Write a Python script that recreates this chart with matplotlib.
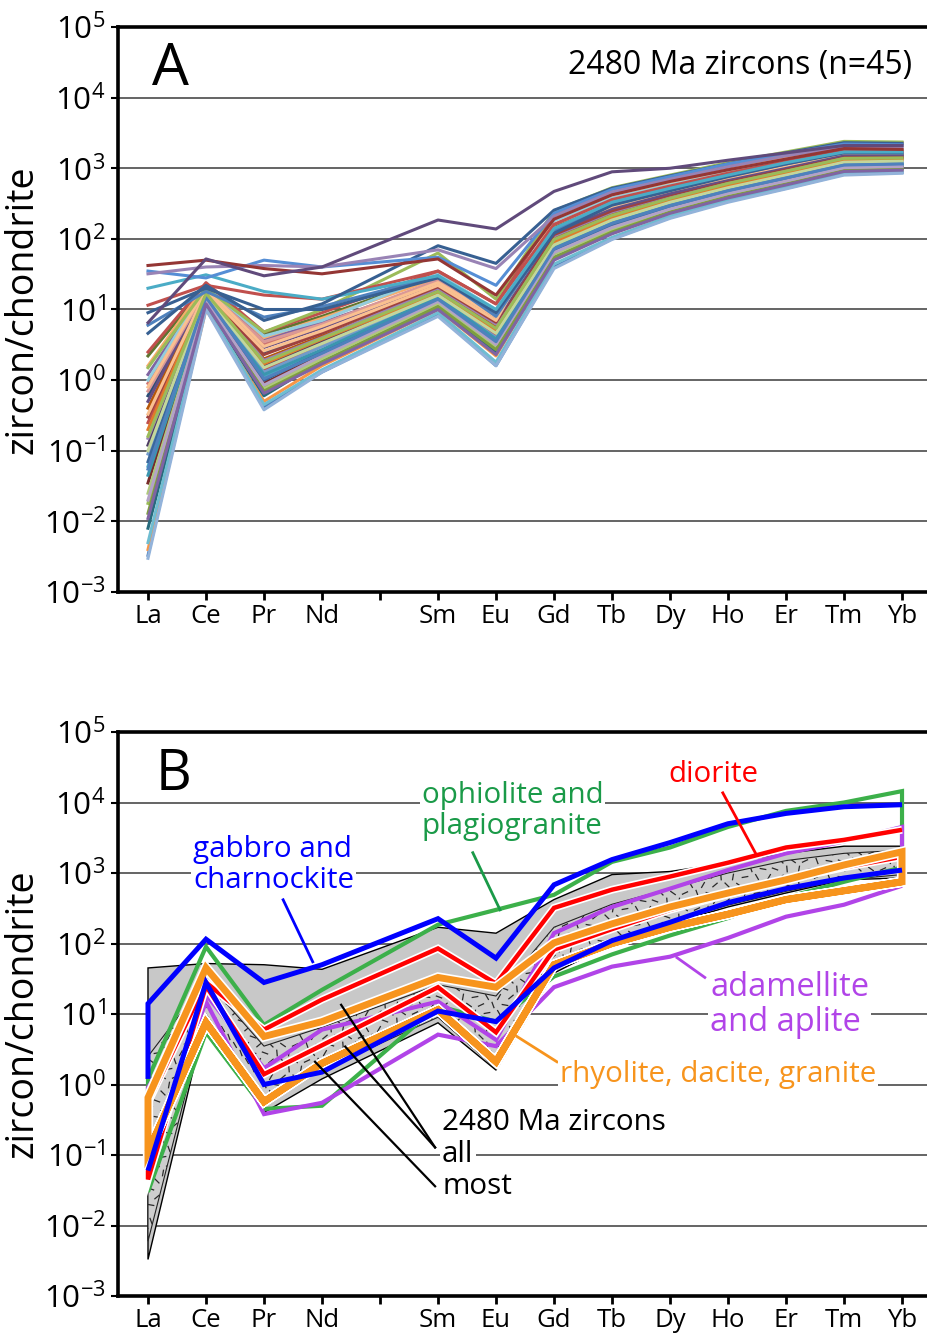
import numpy as np
import matplotlib
matplotlib.use('Agg')
import matplotlib.pyplot as plt
import matplotlib.patheffects as pe
from matplotlib.collections import LineCollection

plt.rcParams['font.family'] = ['Open Sans', 'DejaVu Sans']
plt.rcParams['mathtext.fontset'] = 'custom'
plt.rcParams['mathtext.rm'] = 'Open Sans'

# axe x : terres rares, Pm sans valeur (graduation sans etiquette)
elements = ['La', 'Ce', 'Pr', 'Nd', 'Pm', 'Sm', 'Eu', 'Gd', 'Tb', 'Dy', 'Ho', 'Er', 'Tm', 'Yb']
ree = ['La', 'Ce', 'Pr', 'Nd', 'Sm', 'Eu', 'Gd', 'Tb', 'Dy', 'Ho', 'Er', 'Tm', 'Yb']
decades = [1e-3, 1e-2, 1e-1, 1e0, 1e1, 1e2, 1e3, 1e4, 1e5]
decade_labels = ['-3', '-2', '-1', '0', '1', '2', '3', '4', '5']

# zircons 2480 Ma, normalises chondrite (La ... Yb)
zircons_2480 = [
    [0.0033, 11, 0.42, 1.3, 8.5, 1.6, 40, 100, 200, 340, 520, 820, 870],
    [0.25, 16, 1.4, 3.2, 16, 4.2, 85, 190, 330, 540, 820, 1250, 1300],
    [0.018, 13, 0.8, 2.1, 12, 3.1, 62, 140, 260, 430, 650, 1000, 1050],
    [1.2, 20, 3.8, 6.5, 24, 7.5, 120, 260, 430, 680, 1000, 1500, 1500],
    [0.06, 15, 1.1, 2.6, 14, 3.6, 70, 160, 290, 470, 720, 1100, 1150],
    [0.004, 10, 0.5, 1.6, 10, 2.2, 52, 120, 230, 380, 580, 900, 950],
    [0.6, 18, 2.5, 4.8, 20, 6.0, 105, 230, 400, 640, 950, 1450, 1450],
    [0.035, 14, 0.9, 2.3, 13, 2.6, 58, 130, 250, 410, 630, 980, 1020],
    [2.2, 22, 4.5, 8, 30, 9, 150, 320, 520, 800, 1200, 1800, 1800],
    [0.12, 17, 1.6, 3.5, 18, 5.2, 95, 210, 370, 600, 900, 1350, 1400],
    [0.008, 12, 0.6, 1.9, 11, 2.5, 56, 128, 245, 400, 610, 950, 990],
    [0.4, 19, 2.0, 4.2, 19, 5.8, 100, 220, 385, 620, 930, 1400, 1420],
    [0.09, 16, 1.3, 3.0, 15, 4.0, 78, 175, 310, 500, 760, 1150, 1200],
    [0.9, 21, 3.2, 6.0, 25, 7.0, 130, 280, 460, 720, 1080, 1600, 1600],
    [0.025, 13, 0.75, 2.0, 12, 2.9, 60, 135, 255, 420, 640, 1000, 1040],
    [0.15, 18, 1.9, 4.0, 20, 6.2, 110, 240, 410, 650, 980, 1480, 1500],
    [0.005, 11, 0.45, 1.4, 9, 1.8, 44, 105, 210, 350, 540, 850, 900],
    [1.6, 23, 4.0, 7.5, 28, 8.5, 140, 300, 490, 760, 1130, 1700, 1700],
    [0.07, 15, 1.0, 2.5, 14, 3.4, 68, 155, 280, 460, 700, 1070, 1100],
    [0.3, 17, 2.3, 4.6, 21, 6.6, 115, 250, 420, 670, 1000, 1520, 1520],
    [0.013, 12, 0.7, 1.8, 11, 2.7, 54, 125, 240, 395, 600, 930, 980],
    [0.5, 20, 2.9, 5.5, 23, 7.2, 125, 270, 440, 700, 1050, 1560, 1560],
    [0.045, 14, 1.2, 2.7, 15, 3.8, 75, 170, 300, 490, 740, 1120, 1170],
    [0.2, 18, 1.7, 3.8, 17, 5.0, 90, 200, 350, 570, 860, 1300, 1330],
    [0.003, 10, 0.38, 1.3, 8, 1.6, 38, 98, 195, 330, 510, 800, 850],
    [0.7, 19, 3.5, 6.2, 26, 8.0, 160, 340, 540, 830, 1250, 1850, 1850],
    [0.1, 16, 1.5, 3.3, 16, 4.6, 82, 185, 330, 530, 800, 1220, 1260],
    [0.02, 13, 0.85, 2.2, 13, 3.2, 64, 145, 265, 440, 660, 1020, 1060],
    [1.0, 21, 4.2, 7.0, 32, 10, 180, 380, 600, 900, 1350, 2000, 2000],
    [0.33, 18, 2.6, 5.0, 22, 7.0, 200, 420, 640, 950, 1400, 2100, 2100],
    [0.055, 15, 1.05, 2.4, 14, 3.5, 72, 165, 295, 480, 730, 1110, 1150],
    [2.5, 24, 4.8, 9, 35, 12, 220, 450, 700, 1050, 1550, 2300, 2300],
    [0.16, 17, 1.8, 3.9, 18, 5.4, 98, 215, 375, 610, 910, 1380, 1400],
    [0.011, 12, 0.65, 1.7, 10, 2.3, 50, 118, 230, 380, 580, 900, 940],
    [0.8, 20, 3.0, 5.8, 24, 7.8, 135, 290, 480, 740, 1100, 1650, 1650],
    [1.5, 20, 4.8, 10, 63, 14, 250, 530, 800, 1200, 1700, 2400, 2350],
    [6, 18, 7.8, 11, 30, 8, 130, 310, 500, 780, 1150, 1700, 1650],
    [9, 20, 10, 10, 28, 9, 120, 300, 480, 760, 1150, 1650, 1650],
    [11.5, 22, 16, 14, 35, 12, 160, 360, 560, 850, 1250, 1750, 1750],
    [20, 31, 18, 14, 30, 10, 140, 330, 520, 800, 1200, 1700, 1700],
    [4.6, 22, 7, 12, 80, 45, 255, 520, 780, 1150, 1650, 2300, 2250],
    [35, 28, 50, 40, 55, 22, 230, 500, 760, 1150, 1600, 2200, 2150],
    [32, 40, 42, 40, 70, 38, 210, 460, 700, 1050, 1500, 2000, 2000],
    [42, 50, 38, 32, 52, 16, 190, 420, 650, 950, 1350, 1900, 1850],
    [6.5, 52, 30, 40, 185, 138, 470, 890, 1000, 1300, 1650, 2100, 2100],
]

line_colors = [
    '#4F81BD', '#C0504D', '#9BBB59', '#8064A2', '#4BACC6', '#F79646',
    '#2C4D75', '#772C2A', '#5F7530', '#4D3B62', '#276A7C', '#B65708',
    '#729ACA', '#CD7371', '#AFC97A', '#9983B5', '#6FBDD1', '#F9AB6B',
    '#3A679C', '#9E413E', '#7E9D40', '#664F85', '#3B96AF', '#E07B2A',
    '#93B3DA', '#DA9896', '#C3D69B', '#B3A2C7', '#93CDDD', '#FAC090',
    '#4F81BD', '#C0504D', '#9BBB59', '#8064A2', '#FAC090',
    '#9BBB59', '#4F81BD', '#376092', '#C0504D', '#4BACC6',
    '#376092', '#558ED5', '#9983B5', '#943634', '#604A7B',
]

# champs (enveloppes) du panneau B
all_upper = [45, 52, 50, 43, 170, 140, 420, 950, 1050, 1400, 1900, 2400, 2400]
all_lower = [0.0033, 9, 0.4, 1.2, 7.5, 1.6, 38, 100, 190, 330, 520, 800, 850]
most_upper = [2.5, 30, 3.5, 6.5, 26, 18, 170, 360, 600, 1000, 1500, 1900, 2100]
most_lower = [0.006, 10, 0.6, 1.6, 9, 1.7, 45, 110, 200, 350, 550, 800, 950]

gabbro_upper = [14, 115, 28, 50, 225, 62, 680, 1550, 2700, 5000, 7000, 8700, 9300]
gabbro_lower = [0.06, 28, 1.0, 1.5, 11, 7.8, 45, 110, 200, 380, 600, 850, 1100]
gabbro_la_base = 1.2
ophiolite_upper = [1.2, 90, 7, 22, 185, 300, 490, 1440, 2300, 4500, 7600, 10000, 14500]
ophiolite_lower = [0.03, 5.5, 0.45, 0.5, 13, 7.8, 34, 70, 130, 230, 450, 750, 1200]
ophiolite_yb_base = 2350
diorite_upper = [0.55, 28, 6, 16, 85, 27, 320, 580, 890, 1400, 2300, 2950, 4100]
diorite_lower = [0.045, 25, 1.4, 3.6, 24, 5.5, 82, 160, 300, 500, 800, 1200, 1700]
adamellite_upper = [0.9, 19, 1.7, 6, 15, 4.3, 140, 330, 600, 1100, 1900, 2800, 4500]
adamellite_lower = [0.09, 15, 0.38, 0.55, 5.1, 3.5, 24, 47, 65, 120, 240, 355, 660]
adamellite_yb_base = 2350
granite_upper = [0.65, 45, 4.8, 7.8, 33, 24, 102, 190, 330, 520, 800, 1300, 2000]
granite_lower = [0.11, 7.6, 0.57, 2.0, 11.5, 2.1, 50, 100, 170, 260, 420, 560, 750]

xpos = np.array([elements.index(e) for e in ree])

AX_W, AX_H = 810, 564   # taille des axes en pixels


def setup_axes(ax):
    ax.set_yscale('log')
    ax.set_xlim(-0.517, 13.448)
    ax.set_ylim(1e-3, 1e5)
    ax.set_yticks(decades)
    ax.set_yticklabels([r'$\mathregular{10^{%s}}$' % s for s in decade_labels])
    ax.yaxis.set_minor_locator(matplotlib.ticker.NullLocator())
    ax.set_xticks(range(len(elements)))
    ax.set_xticklabels([e if e != 'Pm' else '' for e in elements])
    ax.tick_params(axis='y', labelsize=22.5, length=5, width=1.5, pad=4)
    ax.tick_params(axis='x', labelsize=18.5, length=6, width=2, pad=2.5)
    ax.grid(axis='y', color='#3a3a3a', lw=1.1)
    ax.set_axisbelow(True)
    ax.spines['right'].set_visible(False)
    for s in ['left', 'top', 'bottom']:
        ax.spines[s].set_linewidth(2.6)
    ax.set_ylabel('zircon/chondrite', fontsize=27)
    ax.yaxis.set_label_coords(-0.094, 0.5)


def texture(ax, patch):
    # petits tirets orientes, decoupes sur le champ
    angles = np.radians([25, 80, 135, 160, 60, 110, 10, 145, 95, 40, 170, 120])
    segs = []
    k = 0
    for j, y in enumerate(np.arange(3, AX_H, 8)):
        for x in np.arange(3 + (j % 2) * 6, AX_W, 12):
            a = angles[(k * 5 + j * 7) % len(angles)]
            k += 1
            dx, dy = 3.4 * np.cos(a), 3.4 * np.sin(a)
            segs.append([((x - dx) / AX_W, (y - dy) / AX_H),
                         ((x + dx) / AX_W, (y + dy) / AX_H)])
    lc = LineCollection(segs, colors='#2a2a2a', linewidths=0.9,
                        transform=ax.transAxes, zorder=1.3)
    lc.set_clip_path(patch)
    ax.add_collection(lc)


def field(ax, upper, lower, color, lw, zorder, left='lower', right='lower', casing=False):
    # contour d'un champ : borne sup., borne inf., fermetures verticales en La / Yb
    effects = None
    if casing:
        effects = [pe.Stroke(linewidth=lw + 2.4, foreground='white'), pe.Normal()]
    kw = dict(color=color, lw=lw, zorder=zorder, solid_joinstyle='miter',
              solid_capstyle='butt', path_effects=effects)
    xs = list(xpos)
    ys = list(upper)
    if left == 'lower':
        xs, ys = list(xpos[::-1]) + xs, list(lower[::-1]) + ys
    else:
        if left is not None:
            xs, ys = [xpos[0]] + xs, [left] + ys
        ax.plot(xpos, lower, **kw)
    if right == 'lower':
        xs, ys = xs + list(xpos[::-1]), ys + list(lower[::-1])
    elif right is not None:
        xs, ys = xs + [xpos[-1]], ys + [right]
    ax.plot(xs, ys, **kw)


fig = plt.figure(figsize=(9.28, 13.34), dpi=100)
ax_a = fig.add_axes([118 / 928, 742 / 1334, 810 / 928, 565 / 1334])
ax_b = fig.add_axes([118 / 928, 38 / 1334, 810 / 928, 564 / 1334])

# ---- A : spectres individuels
setup_axes(ax_a)
for vals, c in zip(zircons_2480, line_colors):
    ax_a.plot(xpos, vals, color=c, lw=2.2, zorder=2)
ax_a.text(0.042, 0.897, 'A', transform=ax_a.transAxes, fontsize=42, va='baseline')
ax_a.text(0.980, 0.917, '2480 Ma zircons (n=45)', transform=ax_a.transAxes,
          fontsize=23, ha='right', va='baseline')

# ---- B : champs par type de roche
setup_axes(ax_b)
all_patch = ax_b.fill(np.r_[xpos, xpos[::-1]], np.r_[all_upper, all_lower[::-1]],
                      facecolor='#c8c8c8', edgecolor='black', lw=1.0, zorder=1)[0]
most_patch = ax_b.fill(np.r_[xpos, xpos[::-1]], np.r_[most_upper, most_lower[::-1]],
                       facecolor='#cecece', edgecolor='#222222', lw=0.8, zorder=1.2)[0]
texture(ax_b, most_patch)

field(ax_b, ophiolite_upper, ophiolite_lower, '#3cb04a', 3.0, 2.0, right=ophiolite_yb_base)
field(ax_b, adamellite_upper, adamellite_lower, '#b144e8', 3.0, 2.1, right=adamellite_yb_base)
field(ax_b, diorite_upper, diorite_lower, '#ff0000', 3.2, 2.2, right=None, casing=True)
field(ax_b, granite_upper, granite_lower, '#f7941d', 5.0, 2.3, casing=True)
field(ax_b, gabbro_upper, gabbro_lower, '#0000ff', 3.6, 2.4, left=gabbro_la_base, right=None)

ax_b.text(0.046, 0.897, 'B', transform=ax_b.transAxes, fontsize=40, va='baseline')

box = dict(facecolor='white', edgecolor='none', pad=1.5)
tkw = dict(fontsize=21.3, ha='left', va='center', linespacing=1.08, zorder=5)

ax_b.text(0.78, 1310, 'gabbro and\ncharnockite', color='#0000ff', bbox=box, **tkw)
ax_b.plot([2.33, 2.84], [417, 55], color='#0000ff', lw=2, zorder=4)

ax_b.text(4.72, 7600, 'ophiolite and\nplagiogranite', color='#1a9a48', bbox=box, **tkw)
ax_b.plot([5.6, 6.07], [1940, 300], color='#1a9a48', lw=2, zorder=4)

ax_b.text(8.97, 25000, 'diorite', color='#ff0000', **tkw)
ax_b.plot([9.91, 10.47], [13700, 1940], color='#ff0000', lw=2, zorder=4)

ax_b.text(9.69, 13.6, 'adamellite\nand aplite', color='#b144e8', bbox=box,
          **dict(tkw, fontsize=23.5))
ax_b.plot([9.6, 9.12], [33, 63], color='#b144e8', lw=2, zorder=4)

ax_b.text(7.1, 1.4, 'rhyolite, dacite, granite', color='#f7941d', bbox=box, **tkw)
ax_b.plot([7.05, 6.36], [2.1, 4.8], color='#f7941d', lw=2, zorder=4)

ax_b.text(5.07, 0.29, '2480 Ma zircons', color='black', **tkw)
ax_b.text(5.07, 0.102, 'all', color='black', bbox=box, **tkw)
ax_b.text(5.07, 0.036, 'most', color='black', **tkw)
ax_b.plot([4.95, 3.33], [0.128, 13.5], color='black', lw=1.6, zorder=4)
ax_b.plot([4.95, 3.40], [0.128, 3.45], color='black', lw=1.6, zorder=4)
ax_b.plot([4.95, 2.88], [0.036, 2.1], color='black', lw=1.6, zorder=4)

fig.savefig('out.png', dpi=100)
